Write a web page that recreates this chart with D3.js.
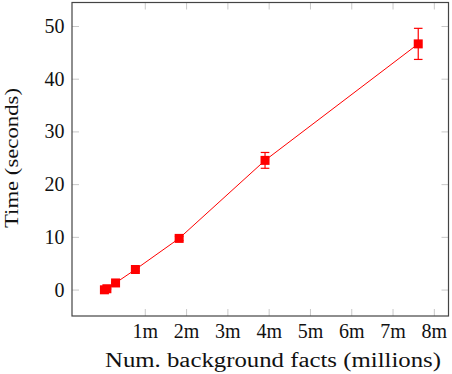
<!DOCTYPE html>
<html>
<head>
<meta charset="utf-8">
<script src="https://cdn.jsdelivr.net/npm/d3@7"></script>
<style>
  html, body { margin: 0; padding: 0; background: #fff; }
</style>
</head>
<body>
<svg id="chart" width="452" height="374"></svg>
<script>
// data (x in millions of facts, y in seconds)
const facts = [0.01, 0.07, 0.28, 0.76, 1.82, 3.9, 7.61];
const times = [0.05, 0.25, 1.35, 3.9, 9.8, 24.6, 46.7];
const errs  = [0.1, 0.1, 0.15, 0.3, 0.4, 1.5, 2.95];
const xTicks = [1, 2, 3, 4, 5, 6, 7, 8];
const yTicks = [0, 10, 20, 30, 40, 50];

const FONT = "'Liberation Serif', 'DejaVu Serif', serif";
const FSIZE = "20px";

const svg = d3.select("#chart");
const plotL = 72, plotR = 448.5, plotT = 2.5, plotB = 316;

const x = d3.scaleLinear().domain([-0.775, 8.343]).range([plotL, plotR]);
const y = d3.scaleLinear().domain([-4.92, 54.55]).range([plotB, plotT]);

const tickLen = 7;
const tickColor = "#c8c8c8";

// tick marks, pointing inward on all four sides
const ticks = svg.append("g").attr("stroke", tickColor).attr("stroke-width", 1);
xTicks.forEach(function (t) {
    ticks.append("line").attr("x1", x(t)).attr("x2", x(t)).attr("y1", plotB).attr("y2", plotB - tickLen);
    ticks.append("line").attr("x1", x(t)).attr("x2", x(t)).attr("y1", plotT).attr("y2", plotT + tickLen);
});
yTicks.forEach(function (t) {
    ticks.append("line").attr("y1", y(t)).attr("y2", y(t)).attr("x1", plotL).attr("x2", plotL + tickLen);
    ticks.append("line").attr("y1", y(t)).attr("y2", y(t)).attr("x1", plotR).attr("x2", plotR - tickLen);
});

// axis box
svg.append("rect")
    .attr("x", plotL).attr("y", plotT)
    .attr("width", plotR - plotL).attr("height", plotB - plotT)
    .attr("fill", "none").attr("stroke", "#444").attr("stroke-width", 1.2);

function label(sel) {
    return sel.style("font-family", FONT).style("font-size", FSIZE)
        .style("font-weight", "normal").attr("fill", "#111");
}

// tick labels
svg.append("g").selectAll("text").data(xTicks).join("text")
    .attr("x", d => x(d)).attr("y", 338)
    .attr("text-anchor", "middle")
    .call(label)
    .text(d => d + "m");

svg.append("g").selectAll("text").data(yTicks).join("text")
    .attr("x", 64.5).attr("y", d => y(d) + 6.5)
    .attr("text-anchor", "end")
    .call(label)
    .text(d => d);

// axis titles
svg.append("text")
    .attr("x", 273).attr("y", 366.5)
    .attr("text-anchor", "middle")
    .call(label)
    .attr("textLength", 336).attr("lengthAdjust", "spacingAndGlyphs")
    .text("Num. background facts (millions)");

svg.append("text")
    .attr("transform", "translate(17.5,158) rotate(-90)")
    .attr("text-anchor", "middle")
    .call(label)
    .style("font-size", "18.5px")
    .attr("textLength", 140).attr("lengthAdjust", "spacingAndGlyphs")
    .text("Time (seconds)");

// series
const pts = facts.map((f, i) => ({x: f, y: times[i], e: errs[i]}));
const red = "#ff0000";

svg.append("path")
    .datum(pts)
    .attr("fill", "none").attr("stroke", red).attr("stroke-width", 1)
    .attr("d", d3.line().x(d => x(d.x)).y(d => y(d.y)));

const eb = svg.append("g").attr("stroke", red).attr("stroke-width", 1.2);
pts.forEach(function (p) {
    const cx = x(p.x), y0 = y(p.y - p.e), y1 = y(p.y + p.e);
    eb.append("line").attr("x1", cx).attr("x2", cx).attr("y1", y0).attr("y2", y1);
    eb.append("line").attr("x1", cx - 4.3).attr("x2", cx + 4.3).attr("y1", y0).attr("y2", y0);
    eb.append("line").attr("x1", cx - 4.3).attr("x2", cx + 4.3).attr("y1", y1).attr("y2", y1);
});

const sq = 9;
svg.append("g").selectAll("rect").data(pts).join("rect")
    .attr("x", d => x(d.x) - sq / 2).attr("y", d => y(d.y) - sq / 2)
    .attr("width", sq).attr("height", sq)
    .attr("fill", red);
</script>
</body>
</html>
